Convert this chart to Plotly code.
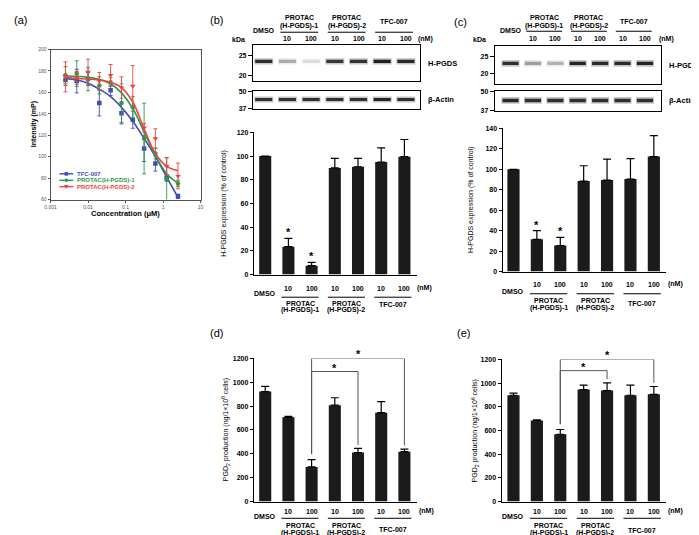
import plotly.graph_objects as go

W, H = 699, 535
FONT = "Liberation Sans"

# ---------------- data: panel (a) ----------------
conc_uM = [0.0025, 0.005, 0.01, 0.02, 0.04, 0.078, 0.156, 0.3125, 0.625, 1.25, 2.5]
tfc007_mP = [171.5, 170.5, 172.5, 150, 162, 140.5, 134.5, 107.5, 93.5, 80, 63]
tfc007_sd = [5, 11, 6, 12, 5, 10, 8, 12, 7, 3, 2]
protac1_mP = [176, 177.5, 172.5, 166.5, 169.5, 150, 146, 117, 103, 79, 75]
protac1_sd = [8, 12, 11, 8, 4, 18, 10, 33, 5, 20, 3]
protac2_mP = [174.5, 173.5, 179, 170.5, 176, 164.5, 166, 127, 117, 91, 82]
protac2_sd = [14, 6, 12, 8, 10, 10, 19, 4, 9, 8, 12]
tfc007_fit = [173, 171.5, 168.5, 163, 156, 146, 133, 117, 100, 81, 62]
protac1_fit = [175.5, 175, 174, 172, 168, 159.5, 145, 123, 101, 84, 75]
protac2_fit = [174, 173, 172.5, 171.5, 169.5, 164.5, 151, 126, 103, 91, 87]
series_names = ["TFC-007", "PROTAC(H-PGDS)-1", "PROTAC(H-PGDS)-2"]
a_xticks = [0.001, 0.01, 0.1, 1, 10]
a_xticktext = ["0.001", "0.01", "0.1", "1", "10"]

# ---------------- data: lanes / bars ----------------
lane_dose = ["", "10", "100", "10", "100", "10", "100"]
group_labels = [("PROTAC", "(H-PGDS)-1"), ("PROTAC", "(H-PGDS)-2"), ("TFC-007", "")]
b_expr = [100, 23.5, 7.5, 90, 91, 95, 99.5]
b_err = [0, 7, 2.8, 8, 7, 12, 14.5]
c_expr = [100, 31.5, 25.5, 88.5, 89.5, 90.5, 112.5]
c_err = [0, 8.5, 8, 15, 20.5, 20, 20.5]
d_pgd2 = [922, 706, 290, 808, 410, 745, 418]
d_err = [44, 8, 62, 62, 35, 92, 22]
e_pgd2 = [897, 685, 568, 945, 937, 897, 905]
e_err = [18, 5, 40, 38, 65, 86, 66]
star_lanes = [1, 2]
sig_pairs = [(2, 4), (2, 6)]
d_sig_level = [1090, 1200]
e_sig_level = [1105, 1200]

# ---------------- data: western blot band intensities ----------------
b_hpgds_band = [0.85, 0.3, 0.12, 0.8, 0.82, 0.92, 0.88]
b_actin_band = [0.85, 0.85, 0.85, 0.85, 0.85, 0.9, 0.85]
c_hpgds_band = [0.85, 0.35, 0.28, 0.9, 0.88, 0.88, 0.9]
c_actin_band = [0.88, 0.85, 0.85, 0.85, 0.85, 0.85, 0.85]
hpgds_kda = ["25", "20"]
actin_kda = ["50", "37"]

lanes = list(range(len(lane_dose)))

# ---------------- helpers ----------------
fig = go.Figure()
L = dict(width=W, height=H, margin=dict(l=0, r=0, t=0, b=0),
         paper_bgcolor="white", plot_bgcolor="rgba(0,0,0,0)",
         showlegend=False, barmode="overlay",
         font=dict(family=FONT, size=7, color="black"))
annotations = []
shapes = []


def ref(n, a):
    return a if n == 1 else f"{a}{n}"


def set_axes(n, xpx, ypx, xa, ya):
    xa = dict(xa)
    ya = dict(ya)
    xa.update(domain=[xpx[0] / W, xpx[1] / W], anchor=ref(n, "y"))
    ya.update(domain=[1 - ypx[1] / H, 1 - ypx[0] / H], anchor=ref(n, "x"))
    L["xaxis" if n == 1 else f"xaxis{n}"] = xa
    L["yaxis" if n == 1 else f"yaxis{n}"] = ya


def ann(text, x, y, xref="paper", yref="paper", size=7, bold=True, color="black",
        xanchor="center", yanchor="middle", **kw):
    if xref == "paper":
        x = x / W
    if yref == "paper":
        y = 1 - y / H
    t = f"<b>{text}</b>" if bold else text
    annotations.append(dict(text=t, x=x, y=y, xref=xref, yref=yref, showarrow=False,
                            font=dict(family=FONT, size=size, color=color),
                            xanchor=xanchor, yanchor=yanchor, **kw))


def hline_paper(x0, x1, y, xref="paper", color="black", width=1):
    if xref == "paper":
        x0, x1 = x0 / W, x1 / W
    shapes.append(dict(type="line", xref=xref, yref="paper", x0=x0, x1=x1,
                       y0=1 - y / H, y1=1 - y / H, line=dict(color=color, width=width)))


# ---------------- panel (a) ----------------
set_axes(1, (37, 189), (38, 190),
         dict(type="log", range=[-3, 1], showline=True, mirror=True, linecolor="#555",
              linewidth=1, ticks="outside", ticklen=2, tickwidth=0.8, tickcolor="#555",
              tickvals=a_xticks, ticktext=a_xticktext, tickfont=dict(size=5, color="#555"),
              showgrid=False, zeroline=False),
         dict(range=[60, 200], dtick=20, showline=True, mirror=True, linecolor="#555",
              linewidth=1, ticks="outside", ticklen=2, tickwidth=0.8, tickcolor="#555",
              tickfont=dict(size=5, color="#555"), showgrid=False, zeroline=False))

colors = ["#3f4db3", "#2a9a46", "#ef4141"]
symbols = ["square", "circle", "triangle-down"]
means = [tfc007_mP, protac1_mP, protac2_mP]
sds = [tfc007_sd, protac1_sd, protac2_sd]
fits = [tfc007_fit, protac1_fit, protac2_fit]
for name, col, sym, m, s, f in zip(series_names, colors, symbols, means, sds, fits):
    fig.add_trace(go.Scatter(x=conc_uM, y=f, mode="lines", line=dict(color=col, width=1.6, shape="spline"),
                             name=name, xaxis="x", yaxis="y", hoverinfo="skip"))
    fig.add_trace(go.Scatter(x=conc_uM, y=m, mode="markers", name=name,
                             marker=dict(color=col, symbol=sym, size=4.5 if sym != "triangle-down" else 5),
                             error_y=dict(type="data", array=s, color=col, thickness=0.9, width=2),
                             xaxis="x", yaxis="y"))

# manual legend
leg_rows = [164, 170.5, 177]
for name, col, sym, yrow in zip(series_names, colors, symbols, leg_rows):
    hline_paper(46, 60, yrow, color=col, width=1.4)
    cx, cy = 53 / W, 1 - yrow / H
    hw, hh = 1.8 / W, 1.8 / H
    if sym == "square":
        shapes.append(dict(type="rect", xref="paper", yref="paper", x0=cx - hw, x1=cx + hw,
                           y0=cy - hh, y1=cy + hh, fillcolor=col, line=dict(width=0)))
    elif sym == "circle":
        shapes.append(dict(type="circle", xref="paper", yref="paper", x0=cx - hw, x1=cx + hw,
                           y0=cy - hh, y1=cy + hh, fillcolor=col, line=dict(width=0)))
    else:
        p = f"M {cx - 2.2 / W} {cy + 1.8 / H} L {cx + 2.2 / W} {cy + 1.8 / H} L {cx} {cy - 2.2 / H} Z"
        shapes.append(dict(type="path", xref="paper", yref="paper", path=p, fillcolor=col,
                           line=dict(width=0)))
    ann(name, 62, yrow, size=6, color=col, xanchor="left")

ann("Intensity (mP)", 20, 114, size=7, textangle=-90)
ann("Concentration (μM)", 113, 204, size=7.5)
ann("(a)", 7, 8, size=11, bold=False)

# ---------------- western blots ----------------
def blot(n_h, n_a, xpx, ypx_h, ypx_a, xrange, hp_band, ac_band, hp_tick, ac_tick, labx):
    xa = dict(range=xrange, showline=True, mirror=True, linecolor="black", linewidth=1,
              ticks="", showticklabels=False, showgrid=False, zeroline=False)
    for n, ypx, ticks, tx in ((n_h, ypx_h, hp_tick, hpgds_kda), (n_a, ypx_a, ac_tick, actin_kda)):
        set_axes(n, xpx, ypx, xa,
                 dict(range=[-0.02, 1.02], showline=True, mirror=True, linecolor="black",
                      linewidth=1, ticks="outside", ticklen=4, tickwidth=1, tickcolor="black",
                      tickvals=ticks, ticktext=tx, showgrid=False, zeroline=False,
                      tickfont=dict(size=7, weight="bold")))
    for n, band, center, thick in ((n_h, hp_band, 0.54, 0.09), (n_a, ac_band, 0.52, 0.18)):
        halo = [f"rgba(20,20,20,{0.28 * v:.3f})" for v in band]
        core = [f"rgba(20,20,20,{v:.3f})" for v in band]
        fig.add_trace(go.Bar(x=lanes, y=[thick * 2.0] * len(lanes), base=[center - thick] * len(lanes),
                             width=0.8, marker=dict(color=halo, line=dict(width=0)),
                             xaxis=ref(n, "x"), yaxis=ref(n, "y"), hoverinfo="skip"))
        fig.add_trace(go.Bar(x=lanes, y=[thick] * len(lanes), base=[center - thick / 2] * len(lanes),
                             width=0.72, marker=dict(color=core, line=dict(width=0)),
                             xaxis=ref(n, "x"), yaxis=ref(n, "y"), hoverinfo="skip"))
    ann("H-PGDS", labx, (ypx_h[0] + ypx_h[1]) / 2 + 0.5, size=7.5, xanchor="left")
    ann("β-Actin", labx, (ypx_a[0] + ypx_a[1]) / 2, size=7.5, xanchor="left")


blot(2, 3, (242, 411), (33, 70), (80, 98), [-0.458, 6.583], b_hpgds_band, b_actin_band,
     [0.70, 0.135], [1.0, 0.0], 417)
blot(5, 6, (487, 655), (34, 73), (80, 100), [-0.705, 6.696], c_hpgds_band, c_actin_band,
     [0.72, 0.26], [1.0, 0.0], 662)


def blot_header(n, rows, nm_x, kda_x):
    xr = ref(n, "x")
    ann("DMSO", 0, rows["dmso"], xref=xr)
    for i, d in zip(lanes, lane_dose):
        if d:
            ann(d, i, rows["num"], xref=xr)
    for g, (l1, l2) in enumerate(group_labels):
        c = 1.5 + 2 * g
        if l2:
            ann(l1, c, rows["g1"], xref=xr)
            ann(l2, c, rows["g2"], xref=xr)
        else:
            ann(l1, c, rows["tfc"], xref=xr)
        hline_paper(c - 0.8, c + 0.8, rows["ul"], xref=xr)
    ann("(nM)", nm_x, rows["num"])
    ann("kDa", kda_x, 28)


blot_header(2, dict(dmso=19, num=27, g1=6, g2=14, tfc=10, ul=20.5), 417, 227)
blot_header(5, dict(dmso=19, num=27, g1=6, g2=14, tfc=9.5, ul=19.5), 661, 472)
ann("(b)", 205, 8, size=11, bold=False)
ann("(c)", 452, 10, size=11, bold=False)

# ---------------- bar panels ----------------
def bar_panel(n, xpx, ypx, xrange, yrange, dtick, vals, errs, rows, nm_x, ylab, ylab_x):
    set_axes(n, xpx, ypx,
             dict(range=xrange, showline=True, linecolor="black", linewidth=1.2, ticks="",
                  showticklabels=False, showgrid=False, zeroline=False),
             dict(range=yrange, dtick=dtick, showline=True, linecolor="black", linewidth=1.2,
                  ticks="outside", ticklen=3, tickwidth=1, tickcolor="black", showgrid=False,
                  zeroline=False, tickfont=dict(size=7, weight="bold")))
    fig.add_trace(go.Bar(x=lanes, y=vals, width=0.52,
                         marker=dict(color="#1b1b1b", line=dict(width=0)),
                         error_y=dict(type="data", symmetric=False, array=errs,
                                      arrayminus=[0] * len(errs), color="black",
                                      thickness=1.2, width=4),
                         xaxis=ref(n, "x"), yaxis=ref(n, "y")))
    xr = ref(n, "x")
    ann("DMSO", 0, rows["dmso"], xref=xr)
    for i, d in zip(lanes, lane_dose):
        if d:
            ann(d, i, rows["num"], xref=xr)
    for g, (l1, l2) in enumerate(group_labels):
        c = 1.5 + 2 * g
        if l2:
            ann(l1, c, rows["g1"], xref=xr)
            ann(l2, c, rows["g2"], xref=xr)
        else:
            ann(l1, c, rows["tfc"], xref=xr)
        hline_paper(c - 0.8, c + 0.8, rows["ul"], xref=xr)
    ann("(nM)", nm_x, rows["num"])
    ann(ylab, ylab_x, (ypx[0] + ypx[1]) / 2, size=7, bold=False, textangle=-90)


ylab_expr = "H-PGDS expression (% of control)"
ylab_pgd = "PGD<sub>2</sub> production (ng/1×10<sup>6</sup> cells)"

bar_panel(4, (243, 408), (122, 266), [-0.489, 6.532], [0, 120], 20, b_expr, b_err,
          dict(num=280, dmso=285, ul=289, g1=295, g2=302, tfc=296), 416, ylab_expr, 213)
bar_panel(7, (495, 660), (118, 263), [-0.464, 6.498], [0, 140], 20, c_expr, c_err,
          dict(num=276, dmso=283, ul=285.5, g1=292.5, g2=300, tfc=295), 670, ylab_expr, 463)
bar_panel(8, (243, 408), (351, 496), [-0.489, 6.532], [0, 1200], 200, d_pgd2, d_err,
          dict(num=506, dmso=511, ul=513, g1=520.5, g2=528, tfc=524), 418, ylab_pgd, 215)
bar_panel(9, (494, 660), (352, 496), [-0.506, 6.498], [0, 1200], 200, e_pgd2, e_err,
          dict(num=506, dmso=511, ul=513, g1=520.5, g2=528, tfc=525), 670, ylab_pgd, 467)

# significance stars on (b), (c)
for n, vals, errs in ((4, b_expr, b_err), (7, c_expr, c_err)):
    for i in star_lanes:
        ann("*", i, vals[i] + errs[i], xref=ref(n, "x"), yref=ref(n, "y"), size=11,
            yanchor="bottom", yshift=-2)

# brackets on (d), (e)
for n, vals, errs, levels in ((8, d_pgd2, d_err, d_sig_level), (9, e_pgd2, e_err, e_sig_level)):
    xr, yr = ref(n, "x"), ref(n, "y")
    for (a, b), lev in zip(sig_pairs, levels):
        ya = vals[a] + errs[a] + 45
        yb = vals[b] + errs[b] + 30
        shapes.append(dict(type="path", xref=xr, yref=yr,
                           path=f"M {a} {ya} L {a} {lev} L {b} {lev} L {b} {yb}",
                           line=dict(color="#555", width=1)))
        ann("*", (a + b) / 2, lev, xref=xr, yref=yr, size=11, yanchor="bottom", yshift=-4)

ann("(d)", 205, 325, size=11, bold=False)
ann("(e)", 455, 325, size=11, bold=False)

L["annotations"] = annotations
L["shapes"] = shapes
fig.update_layout(**L)
fig.write_html("out.html")
